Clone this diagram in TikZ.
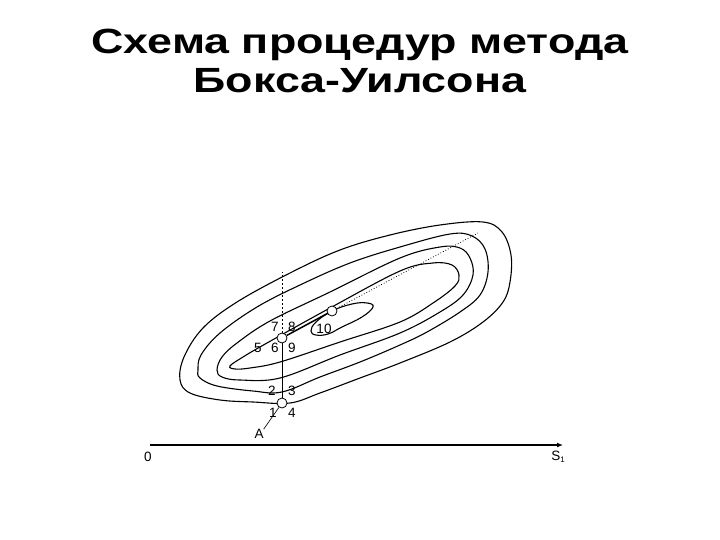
\documentclass[tikz,border=0pt]{standalone}
\usepackage{fontspec}
\setmainfont{Liberation Sans}
\usetikzlibrary{arrows.meta}
\begin{document}
\begin{tikzpicture}[x=1pt,y=-1pt,
  contour/.style={line width=1.1pt, black},
  pt/.style={circle, draw, fill=white, line width=0.8pt, inner sep=0pt, minimum size=10pt},
  lbl/.style={font=\fontsize{13.5}{14}\selectfont, inner sep=0pt},
  title/.style={font=\fontsize{35}{39}\selectfont\bfseries, align=center, xscale=1.28}]
\useasboundingbox (0,0) rectangle (720,540);
\node[title] (t) at (360,61) {Схема процедур метода\\Бокса-Уилсона};
% contours
\draw[contour] plot[smooth cycle, tension=0.6] coordinates {(180,380) (184,357) (203,328) (237,302) (290,273) (340,250) (390,235) (440,225) (483,222) (502,232) (511,255) (510,282) (503,302) (483,322) (450,342) (400,363) (360,378) (320,393) (290,403) (253,402) (220,400) (190,393)};
\draw[contour] plot[smooth cycle, tension=0.6] coordinates {(198,370) (201,355) (220,333) (257,307) (300,285) (350,263) (400,247) (450,234) (472,236) (485,249) (488,272) (480,295) (460,312) (427,332) (400,345) (360,362) (320,377) (282,392) (253,391) (217,386) (200,378)};
\draw[contour] plot[smooth cycle, tension=0.6] coordinates {(217,370) (222,357) (237,343) (270,321) (330,292) (400,258) (440,247) (460,248) (470,258) (473,275) (463,295) (440,312) (400,333) (340,355) (280,378) (240,380) (222,377)};
\draw[contour] plot[smooth cycle, tension=0.6] coordinates {(230,366) (243,357) (267,343) (330,308) (400,271) (433,263) (452,265) (459,275) (455,286) (433,303) (400,322) (340,342) (280,362) (250,368) (235,369)};
\draw[contour] plot[smooth cycle, tension=0.7] coordinates {(311,331) (316,322) (332,311) (352,304) (367,303) (373,307) (362,317) (342,327) (328,334) (316,335)};
% points and paths
\coordinate (dtop) at (282,272);
\coordinate (dend) at (478,233);
\node[pt] (c1) at (282,403) {};
\node[pt] (c2) at (282,338) {};
\node[pt] (c3) at (332,311) {};
\draw[line width=0.9pt] (c1) -- (c2);
\draw[line width=1.5pt] (c2) -- (c3);
\draw[dashed, line width=0.5pt, dash pattern=on 2pt off 2pt] (c2) -- (dtop);
\draw[dotted, line width=0.8pt] (c3) -- (dend);
% labels
\node[lbl] (l7) at (275,327) {7};
\node[lbl] (l8) at (292,327) {8};
\node[lbl] (l5) at (258,348) {5};
\node[lbl] (l6) at (275,348) {6};
\node[lbl] (l9) at (292,348) {9};
\node[lbl] (l2) at (272,391) {2};
\node[lbl] (l3) at (292,391) {3};
\node[lbl] (l1) at (273,413) {1};
\node[lbl] (l4) at (292,413) {4};
\node[lbl] (l10) at (324,329) {10};
\node[lbl] (lA) at (259,434) {A};
\draw[line width=0.6pt] (lA.north east) -- (c1);
% axis
\coordinate (O) at (150,445);
\coordinate (S) at (563,445);
\draw[line width=1.3pt, -{Latex[length=6pt,width=5pt]}] (O) -- (S);
\node[lbl] (l0) at (148,457) {0};
\node[lbl] (lS) at (558,457) {S\raisebox{-1.5pt}{\fontsize{8}{8}\selectfont 1}};
\end{tikzpicture}
\end{document}
